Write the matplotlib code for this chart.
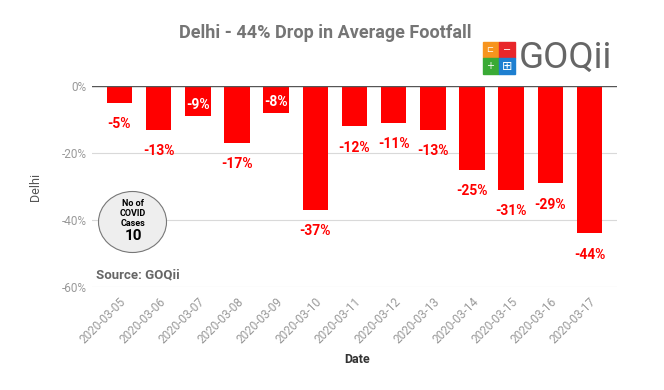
import matplotlib.pyplot as plt
from matplotlib.patches import Ellipse, Rectangle

plt.rcParams['font.family'] = ['Roboto', 'DejaVu Sans']

# datos
fechas = ['2020-03-05', '2020-03-06', '2020-03-07', '2020-03-08', '2020-03-09',
          '2020-03-10', '2020-03-11', '2020-03-12', '2020-03-13', '2020-03-14',
          '2020-03-15', '2020-03-16', '2020-03-17']
caida = [-5, -13, -9, -17, -8, -37, -12, -11, -13, -25, -31, -29, -44]
dentro = [False, False, True, False, True, False, False, False, False, False, False, False, False]
yticks = [0, -20, -40, -60]

fig = plt.figure(figsize=(6.64, 3.90), dpi=100)
ax = fig.add_axes([92/664, 1-287/390, 525/664, 201/390])

x = range(len(fechas))
ax.bar(x, caida, width=0.65, color='#ff0000', zorder=3)
for i, v in enumerate(caida):
    # etiquetas: blancas dentro de la barra o rojas debajo
    if dentro[i]:
        ax.text(i, v + 3.2, f'{v}%', ha='center', va='center', color='white',
                fontsize=10, fontweight='bold', zorder=5)
    else:
        ax.text(i, v - 6.4, f'{v}%', ha='center', va='center', color='#ff0000',
                fontsize=10, fontweight='bold', zorder=5)

ax.set_xlim(-0.7, len(fechas) - 0.3)
ax.set_ylim(-60, 0)
ax.set_yticks(yticks)
ax.set_yticklabels([f'{t}%' for t in yticks], color='#999999', fontsize=8.5)
ax.set_xticks(list(x))
ax.set_xticklabels(fechas, rotation=45, ha='right', rotation_mode='anchor',
                   color='#999999', fontsize=8.5)
ax.tick_params(axis='y', length=0, pad=4)
ax.tick_params(axis='x', length=0, pad=6)
ax.grid(axis='y', color='#d9d9d9', lw=0.8, zorder=0)
ax.axhline(0, color='#555555', lw=1, zorder=4)
for s in ax.spines.values():
    s.set_visible(False)
ax.set_ylabel('Delhi', color='#555555', fontsize=9, labelpad=14)
ax.set_xlabel('Date', color='#333333', fontsize=9, fontweight='bold')
ax.xaxis.set_label_coords(0.505, -0.33)

fig.text(325/664, 1-33/390, 'Delhi - 44% Drop in Average Footfall', ha='center', va='center',
         color='#757575', fontsize=13, fontweight='bold')
fig.text(96/664, 1-275/390, 'Source: GOQii', ha='left', va='center',
         color='#666666', fontsize=9.5, fontweight='bold')

# circulo de casos
fig.patches.append(Ellipse((132.5/664, 1-222/390), 68/664, 61/390, transform=fig.transFigure,
                           facecolor='#eeeeee', edgecolor='#777777', lw=0.8, zorder=6))
for txt, yy in [('No of', 204), ('COVID', 213.5), ('Cases', 223)]:
    fig.text(133/664, 1-yy/390, txt, ha='center', va='center', fontsize=6.5,
             fontweight='bold', zorder=7)
fig.text(133/664, 1-236/390, '10', ha='center', va='center', fontsize=11, fontweight='bold',
         zorder=7)

# logo
cuadros = [(483, 42, '#f7941d'), (499, 42, '#e8262a'), (483, 58, '#3aaa35'), (499, 58, '#1e7fd0')]
for cx, cy, c in cuadros:
    fig.patches.append(Rectangle((cx/664, 1-(cy+15.5)/390), 15.5/664, 15.5/390,
                                 transform=fig.transFigure, color=c))
fig.text(490/664, 1-50/390, '⊏', ha='center', va='center', color='white', fontsize=6,
         family=['DejaVu Sans'])
fig.text(507/664, 1-50/390, '−', ha='center', va='center', color='white', fontsize=7,
         family=['DejaVu Sans'])
fig.text(490/664, 1-66/390, '+', ha='center', va='center', color='white', fontsize=7,
         family=['DejaVu Sans'])
fig.text(507/664, 1-66/390, '⊞', ha='center', va='center', color='white', fontsize=9,
         family=['DejaVu Sans'])
fig.text(519/664, 1-58/390, 'GOQii', ha='left', va='center', color='#666666', fontsize=26.5)

fig.savefig('out.png', dpi=100)
